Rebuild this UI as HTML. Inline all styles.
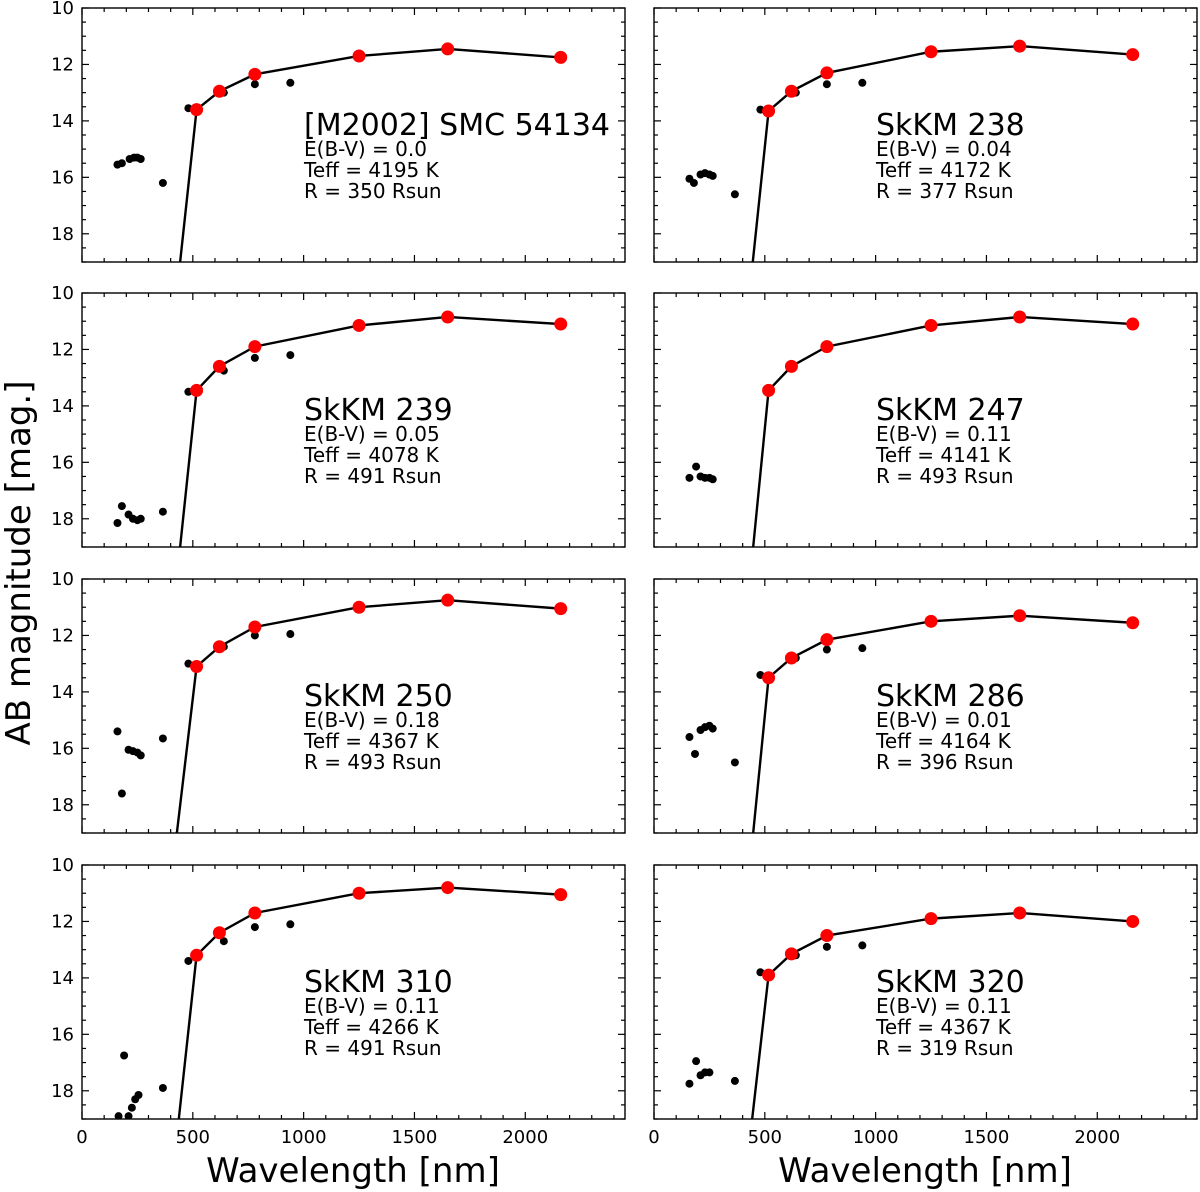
<!DOCTYPE html>
<html><head><meta charset="utf-8"><style>
body{margin:0;background:#fff}
svg{display:block;font-family:"DejaVu Sans","Liberation Sans",sans-serif}
</style></head><body>
<svg id="c" width="1200" height="1192"></svg>
<script>
const names=["[M2002] SMC 54134","SkKM 238","SkKM 239","SkKM 247","SkKM 250","SkKM 286","SkKM 310","SkKM 320"];
const ebv=["0.0","0.04","0.05","0.11","0.18","0.01","0.11","0.11"];
const teff=["4195","4172","4078","4141","4367","4164","4266","4367"];
const radius=["350","377","491","493","493","396","491","319"];
const redWl=[517,620,780,1250,1650,2160];
const redMag=[
[13.6,12.95,12.35,11.7,11.45,11.75],
[13.65,12.95,12.3,11.55,11.35,11.65],
[13.45,12.6,11.9,11.15,10.85,11.1],
[13.45,12.6,11.9,11.15,10.85,11.1],
[13.1,12.4,11.7,11.0,10.75,11.05],
[13.5,12.8,12.15,11.5,11.3,11.55],
[13.2,12.4,11.7,11.0,10.8,11.05],
[13.9,13.15,12.5,11.9,11.7,12.0]];
const modelStart=[440,443,440,445,425,445,434,440];
const blackWl=[
[160,180,215,235,250,265,365,480,640,780,940],
[160,180,210,230,250,265,365,480,640,780,940],
[160,180,210,230,250,265,365,480,640,780,940],
[160,190,210,230,250,265],
[160,180,210,230,250,265,365,480,640,780,940],
[160,185,210,230,250,265,365,480,640,780,940],
[165,190,210,225,240,255,365,480,640,780,940],
[160,190,210,230,250,365,480,640,780,940]];
const blackMag=[
[15.55,15.5,15.35,15.3,15.3,15.35,16.2,13.55,13.0,12.7,12.65],
[16.05,16.2,15.9,15.85,15.9,15.95,16.6,13.6,13.0,12.7,12.65],
[18.15,17.55,17.85,18.0,18.05,18.0,17.75,13.5,12.75,12.3,12.2],
[16.55,16.15,16.5,16.55,16.55,16.6],
[15.4,17.6,16.05,16.1,16.15,16.25,15.65,13.0,12.4,12.0,11.95],
[15.6,16.2,15.35,15.25,15.2,15.3,16.5,13.4,12.8,12.5,12.45],
[18.9,16.75,18.9,18.6,18.3,18.15,17.9,13.4,12.7,12.2,12.1],
[17.75,16.95,17.45,17.35,17.35,17.65,13.8,13.2,12.9,12.85]];
const xTicks=[0,500,1000,1500,2000];
const yTicks=[10,12,14,16,18];

const NS="http://www.w3.org/2000/svg";
const svg=document.getElementById('c');
function mk(t,a,p){const e=document.createElementNS(NS,t);for(const k in a)e.setAttribute(k,a[k]);(p||svg).appendChild(e);return e;}
const colX=[82,654],rowY=[8,293,579,865],W=543,H=254,XMAX=2450,YMIN=10,YMAX=19;
for(let i=0;i<8;i++){
  const x0=colX[i%2],y0=rowY[Math.floor(i/2)];
  const sx=v=>x0+v/XMAX*W, sy=v=>y0+(v-YMIN)/(YMAX-YMIN)*H;
  const g=mk('g',{});
  
  
  const clipId='cl'+i;
  const cp=mk('clipPath',{id:clipId},g);mk('rect',{x:x0,y:y0,width:W,height:H},cp);
  for(let v=0;v<=XMAX;v+=100){const maj=v%500===0,L=maj?7:4;
    mk('line',{x1:sx(v),x2:sx(v),y1:y0+H,y2:y0+H-L,stroke:'#000','stroke-width':1.2},g);
    mk('line',{x1:sx(v),x2:sx(v),y1:y0,y2:y0+L,stroke:'#000','stroke-width':1.2},g);}
  for(let v=YMIN;v<=YMAX;v+=0.5){const maj=Math.abs(v%2)<1e-6,L=maj?7:4;
    mk('line',{x1:x0,x2:x0+L,y1:sy(v),y2:sy(v),stroke:'#000','stroke-width':1.2},g);
    mk('line',{x1:x0+W,x2:x0+W-L,y1:sy(v),y2:sy(v),stroke:'#000','stroke-width':1.2},g);}
  if(i%2===0) yTicks.forEach(v=>{const t=mk('text',{x:x0-8,y:sy(v)+6,'text-anchor':'end','font-size':18},g);t.textContent=v;});
  if(i>=6) xTicks.forEach(v=>{const t=mk('text',{x:sx(v),y:y0+H+24,'text-anchor':'middle','font-size':18},g);t.textContent=v;});
  const pg=mk('g',{'clip-path':'url(#'+clipId+')'},g);
  blackWl[i].forEach((w,j)=>{const c=mk('circle',{cx:sx(w),cy:sy(blackMag[i][j]),r:4,fill:'#000'},pg);
    });
  const mw=[modelStart[i]].concat(redWl), mm=[19.2].concat(redMag[i]);
  const pts=mw.map((w,j)=>sx(w)+','+sy(mm[j])).join(' ');
  const pl=mk('polyline',{points:pts,fill:'none',stroke:'#000','stroke-width':2.4},pg);
  
  redWl.forEach((w,j)=>{const c=mk('circle',{cx:sx(w),cy:sy(redMag[i][j]),r:6.5,fill:'#f00'},pg);
    });
  mk('rect',{x:x0,y:y0,width:W,height:H,fill:'none',stroke:'#000','stroke-width':1.4},g);
  const tx=x0+222;
  const t1=mk('text',{x:tx,y:y0+127,'font-size':30},g);t1.textContent=names[i];
  
  const lines=['E(B-V) = '+ebv[i],'Teff = '+teff[i]+' K','R = '+radius[i]+' Rsun'];
  lines.forEach((s,k)=>{const t=mk('text',{x:tx,y:y0+148+k*21,'font-size':20},g);t.textContent=s;
    });
}
[353,925].forEach(cx=>{const t=mk('text',{x:cx,y:1182,'text-anchor':'middle','font-size':34});t.textContent='Wavelength [nm]';
  });
const yt=mk('text',{x:0,y:0,'text-anchor':'middle','font-size':34,transform:'translate(30,563) rotate(-90)'});
yt.textContent='AB magnitude [mag.]';

</script>
</body></html>
